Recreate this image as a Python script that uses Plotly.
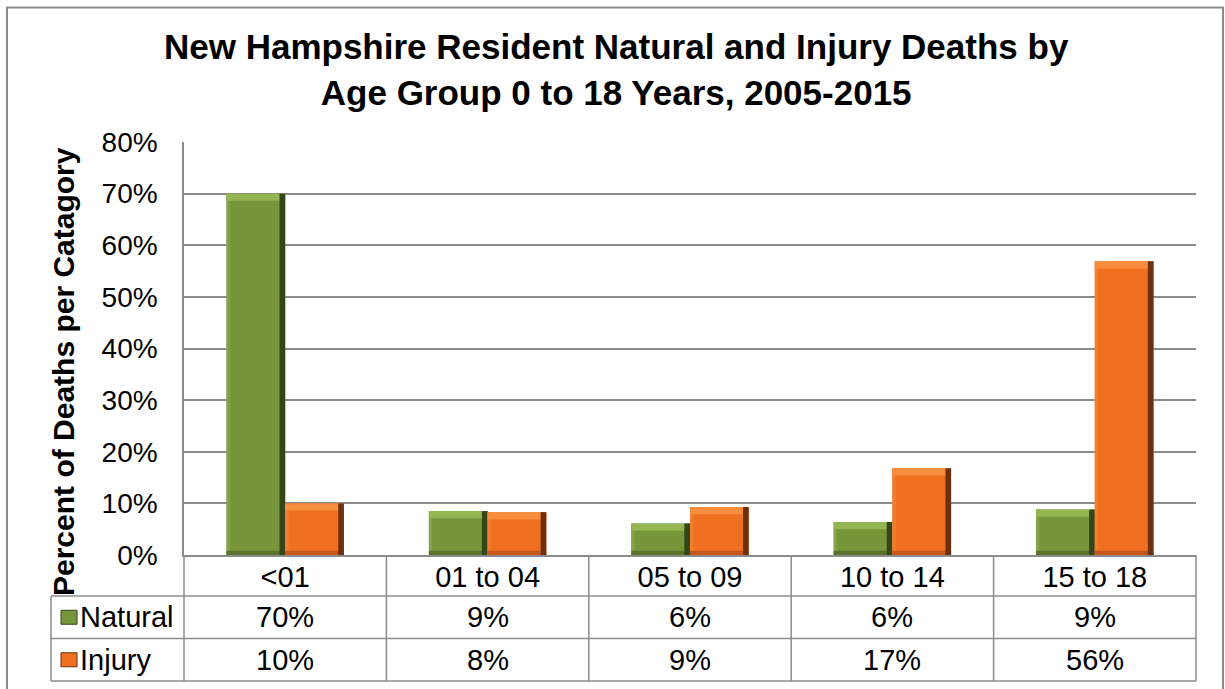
import plotly.graph_objects as go

# ---------------- data ----------------
categories = ["<01", "01 to 04", "05 to 09", "10 to 14", "15 to 18"]
series_names = ["Natural", "Injury"]
natural_values = [70.0, 8.5, 6.1, 6.4, 8.8]
injury_values = [10.0, 8.3, 9.3, 16.8, 56.9]
natural_labels = ["70%", "9%", "6%", "6%", "9%"]
injury_labels = ["10%", "8%", "9%", "17%", "56%"]
y_ticks = [0, 10, 20, 30, 40, 50, 60, 70, 80]
y_tick_labels = ["0%", "10%", "20%", "30%", "40%", "50%", "60%", "70%", "80%"]

title_text = "New Hampshire Resident Natural and Injury Deaths by<br>Age Group 0 to 18 Years, 2005-2015"
y_title = "Percent of Deaths per Catagory"

# ---------------- style ----------------
FONT = "Liberation Sans, Arial, sans-serif"
GRID = "#8c8c8c"
styles = {
    "Natural": dict(main="#77963A", light="#93B552", lightside="#84A445", dark="#34451A", bottom="#5A7329"),
    "Injury": dict(main="#F07021", light="#F68E3E", lightside="#F27D2C", dark="#6E300C", bottom="#C4581A"),
}
BAR_W = 0.29
EDGE_W = 0.028
SIDE_W = 0.016
TOP_H = 1.4
BOT_H = 0.8

fig = go.Figure()

for name, vals, off in [("Natural", natural_values, -BAR_W), ("Injury", injury_values, 0.0)]:
    s = styles[name]
    n = len(vals)
    # main body
    fig.add_trace(go.Bar(x=categories, y=vals, width=[BAR_W] * n, offset=[off] * n,
                         marker=dict(color=s["main"], line=dict(width=0)), name=name,
                         showlegend=False, hoverinfo="skip"))
    # left light strip
    fig.add_trace(go.Bar(x=categories, y=vals, width=[SIDE_W] * n, offset=[off] * n,
                         marker=dict(color=s["lightside"], line=dict(width=0)),
                         showlegend=False, hoverinfo="skip"))
    # bottom dark strip
    fig.add_trace(go.Bar(x=categories, y=[min(BOT_H, v) for v in vals], width=[BAR_W] * n,
                         offset=[off] * n, marker=dict(color=s["bottom"], line=dict(width=0)),
                         showlegend=False, hoverinfo="skip"))
    # top highlight
    fig.add_trace(go.Bar(x=categories, y=[TOP_H] * n, base=[v - TOP_H for v in vals],
                         width=[BAR_W] * n, offset=[off] * n,
                         marker=dict(color=s["light"], line=dict(width=0)),
                         showlegend=False, hoverinfo="skip"))
    # right dark edge
    fig.add_trace(go.Bar(x=categories, y=vals, width=[EDGE_W] * n, offset=[off + BAR_W - EDGE_W] * n,
                         marker=dict(color=s["dark"], line=dict(width=0)),
                         showlegend=False, hoverinfo="skip"))

# ---------------- layout geometry (pixels -> paper) ----------------
W, H = 1225, 689
ML, MR, MT, MB = 184, 29, 142, 134
PW = W - ML - MR
PH = H - MT - MB
X0_PX = ML
Y0_PX = H - MB


def px_x(px):
    return (px - X0_PX) / PW


def px_y(py):
    return (Y0_PX - py) / PH


row_bounds = [px_y(555), px_y(596), px_y(638.5), px_y(681)]
legend_left = px_x(51)
ncat = len(categories)

shapes = []
line_style = dict(color=GRID, width=1.5)
# vertical table lines
for k in range(ncat + 1):
    shapes.append(dict(type="line", xref="paper", yref="paper", x0=k / ncat, x1=k / ncat,
                       y0=row_bounds[0], y1=row_bounds[3], line=line_style))
# horizontal table lines
for yb in row_bounds[1:]:
    shapes.append(dict(type="line", xref="paper", yref="paper", x0=legend_left, x1=1,
                       y0=yb, y1=yb, line=line_style))
# left edge of legend column
shapes.append(dict(type="line", xref="paper", yref="paper", x0=legend_left, x1=legend_left,
                   y0=row_bounds[1], y1=row_bounds[3], line=line_style))
# outer chart border
shapes.append(dict(type="rect", xref="paper", yref="paper", x0=px_x(7), x1=px_x(1223),
                   y0=px_y(700), y1=px_y(7.5), line=dict(color=GRID, width=2), fillcolor="rgba(0,0,0,0)",
                   layer="above"))

annotations = []
row_centers = [(row_bounds[1] + row_bounds[2]) / 2, (row_bounds[2] + row_bounds[3]) / 2]
for name, labels, yc in [("Natural", natural_labels, row_centers[0]),
                         ("Injury", injury_labels, row_centers[1])]:
    s = styles[name]
    # legend key squares
    sq_h = 14 / PH
    shapes.append(dict(type="rect", xref="paper", yref="paper", x0=px_x(61), x1=px_x(77),
                       y0=yc - sq_h / 2, y1=yc + sq_h / 2, fillcolor=s["main"],
                       line=dict(color=s["dark"], width=1)))
    annotations.append(dict(text=name, xref="paper", yref="paper", x=px_x(78), y=yc,
                            xanchor="left", yanchor="middle", showarrow=False,
                            font=dict(family=FONT, size=29, color="black")))
    for cat, lab in zip(categories, labels):
        annotations.append(dict(text=lab, xref="x", yref="paper", x=cat, y=yc,
                                xanchor="center", yanchor="middle", showarrow=False,
                                font=dict(family=FONT, size=29, color="black")))

# y-axis title
annotations.append(dict(text="<b>" + y_title + "</b>", xref="paper", yref="paper",
                        x=px_x(63), y=px_y(372), textangle=-90, xanchor="center", yanchor="middle",
                        showarrow=False, font=dict(family=FONT, size=30, color="black")))

fig.update_layout(
    width=W, height=H,
    margin=dict(l=ML, r=MR, t=MT, b=MB, pad=0),
    paper_bgcolor="white", plot_bgcolor="white",
    barmode="overlay",
    showlegend=False,
    title=dict(text="<b>" + title_text + "</b>", x=0.503, xref="container", xanchor="center",
               y=1 - 59 / H, yref="container", yanchor="top",
               font=dict(family=FONT, size=35, color="black")),
    font=dict(family=FONT, size=28, color="black"),
    xaxis=dict(type="category", categoryorder="array", categoryarray=categories,
               range=[-0.5, ncat - 0.5], showgrid=False, showline=True, linecolor=GRID,
               linewidth=1.5, ticks="", tickfont=dict(family=FONT, size=29, color="black"),
               ticklabelstandoff=-5, fixedrange=True),
    yaxis=dict(range=[0, 80], tickmode="array", tickvals=y_ticks, ticktext=y_tick_labels,
               showgrid=True, gridcolor=GRID,
               gridwidth=1.5, showline=True, linecolor=GRID, linewidth=1.5, ticks="",
               tickfont=dict(family=FONT, size=28, color="black"), ticklabelstandoff=19,
               zeroline=False, fixedrange=True),
    shapes=shapes,
    annotations=annotations,
)

fig.write_html("out.html", config={"displayModeBar": False},
               post_script="document.body.style.margin='0px';")
